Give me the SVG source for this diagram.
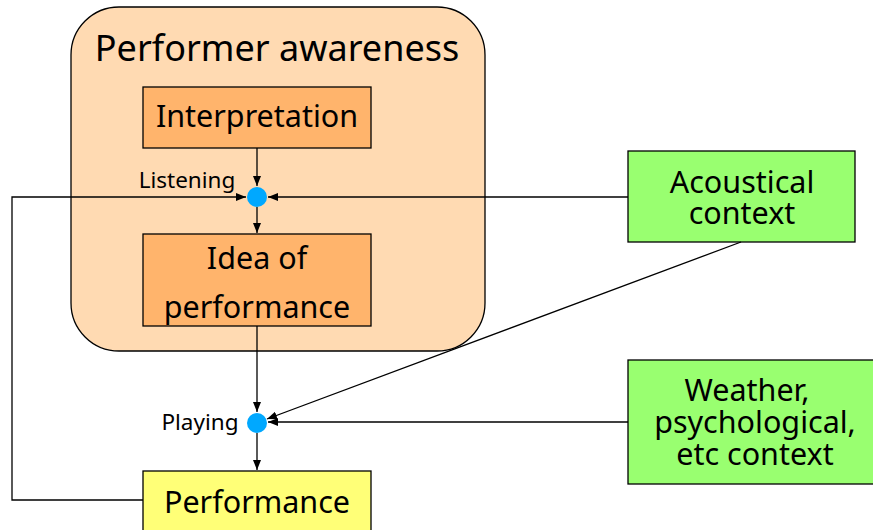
<svg xmlns="http://www.w3.org/2000/svg" width="873" height="530" viewBox="0 0 873 530">
<style>
text{font-family:"Noto Sans","Open Sans","DejaVu Sans",sans-serif;fill:#000;text-anchor:middle}
.box{stroke:#000;stroke-width:1.3}
.big{font-size:36px}
.lbl{font-size:30.5px}
.sm{font-size:22.5px}
.c{fill:none;stroke:#000;stroke-width:1.3}
.dot{fill:#00a8ff}
</style>
<defs>
<marker id="ah" viewBox="0 0 10 8" refX="10" refY="4" markerWidth="10" markerHeight="8" markerUnits="userSpaceOnUse" orient="auto">
<path d="M0,0 L10,4 L0,8 Z" fill="#000"/>
</marker>
</defs>
<rect width="873" height="530" fill="#fff"/>
<g id="awareness">
<rect class="box" x="71" y="7" width="414" height="344" rx="48" fill="#ffdab2"/>
<text class="big" x="277" y="61">Performer awareness</text>
</g>
<g id="interpretation">
<rect class="box" x="143" y="87" width="228" height="61" fill="#ffb46c"/>
<text class="lbl" x="257" y="127">Interpretation</text>
</g>
<g id="idea">
<rect class="box" x="143" y="234" width="228" height="92" fill="#ffb46c"/>
<text class="lbl" x="257" y="269">Idea of</text>
<text class="lbl" x="257" y="318">performance</text>
</g>
<g id="performance">
<rect class="box" x="143" y="471" width="228" height="70" fill="#ffff77"/>
<text class="lbl" x="257" y="513">Performance</text>
</g>
<g id="acoustical">
<rect class="box" x="628" y="151" width="227" height="91" fill="#99ff70"/>
<text class="lbl" x="742" y="193">Acoustical</text>
<text class="lbl" x="742" y="224">context</text>
</g>
<g id="weather">
<rect class="box" x="628" y="360" width="250" height="124" fill="#99ff70"/>
<text class="lbl" x="747" y="401">Weather,</text>
<text class="lbl" x="755" y="433">psychological,</text>
<text class="lbl" x="755" y="465">etc context</text>
</g>
<g id="listening">
<circle class="dot" cx="257" cy="197" r="10"/>
<text class="sm" x="187" y="188">Listening</text>
</g>
<g id="playing">
<circle class="dot" cx="257" cy="423" r="10"/>
<text class="sm" x="200" y="430">Playing</text>
</g>
<g id="connectors">
<path class="c" d="M257,148 V186" marker-end="url(#ah)"/>
<path class="c" d="M257,207 V233" marker-end="url(#ah)"/>
<path class="c" d="M628,197 H268" marker-end="url(#ah)"/>
<path class="c" d="M143,500 H12 V197 H246" marker-end="url(#ah)"/>
<path class="c" d="M257,326 V412" marker-end="url(#ah)"/>
<path class="c" d="M741,242 L267,419" marker-end="url(#ah)"/>
<path class="c" d="M628,422 H268" marker-end="url(#ah)"/>
<path class="c" d="M257,433 V470" marker-end="url(#ah)"/>
</g>
</svg>
